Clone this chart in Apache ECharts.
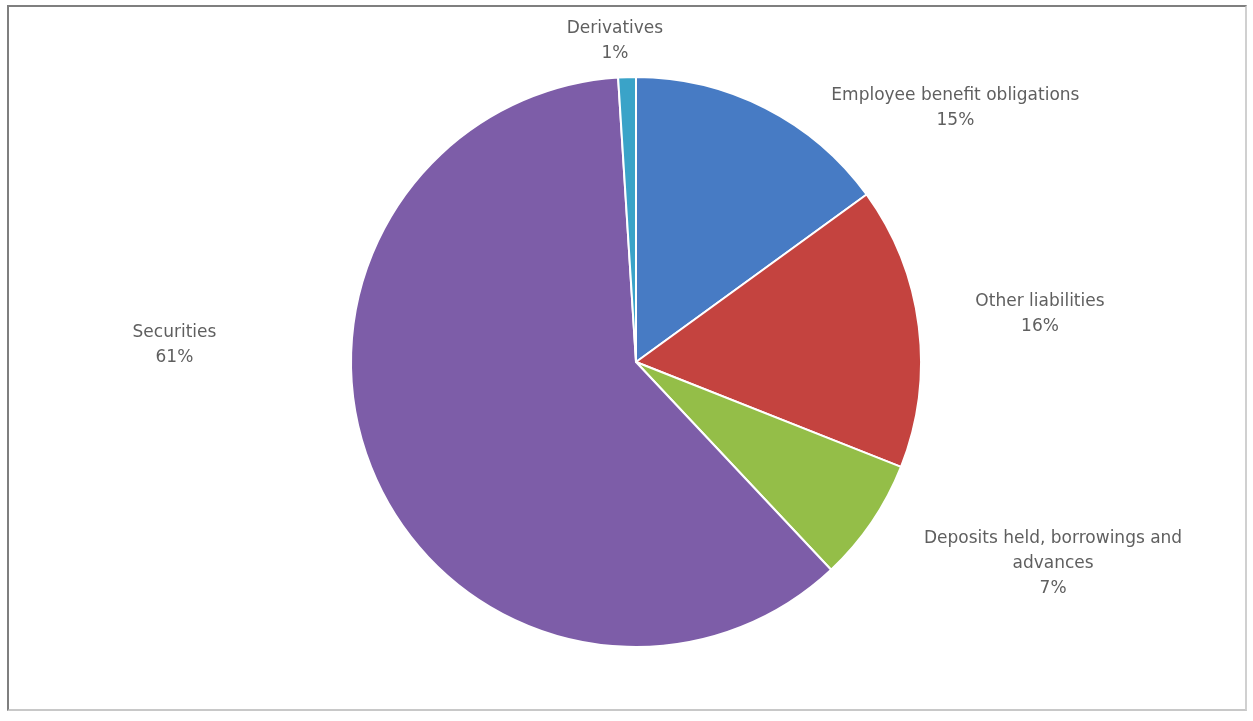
<!DOCTYPE html>
<html>
<head>
<meta charset="utf-8">
<script src="https://cdn.jsdelivr.net/npm/echarts@6/dist/echarts.min.js"></script>
<style>
html, body { margin: 0; padding: 0; background: #fff; }
.frame {
    position: absolute;
    left: 7px; top: 5px;
    width: 1240px; height: 706px;
    border: 2px solid #7f7f7f;
    border-right-color: #d0d0d0;
    border-bottom-color: #c8c8c8;
    box-sizing: border-box;
}
#chart { position: absolute; left: 0; top: 0; width: 1253px; height: 721px; }
</style>
</head>
<body>
<div class="frame"></div>
<div id="chart"></div>
<script>
// 各类负债占比 (%)
const categories = [
    'Employee benefit obligations',
    'Other liabilities',
    'Deposits held, borrowings and\nadvances',
    'Securities',
    'Derivatives'
]
const values = [15, 16, 7, 61, 1]
const colors = ['#477bc4', '#c4433f', '#94be48', '#7d5da8', '#3aa3c8']

// 标签线长度（不显示线，只用来摆放标签）
const lineLen = [0, 99, 73, 0, 36]
const lineLen2 = [185, 18, 116, 195, 6]
const labelDy = [0, 0, 0, -130, 0]

const myChart = echarts.init(document.getElementById('chart'))

const option = {
    backgroundColor: 'transparent',
    animation: false,
    series: [{
        type: 'pie',
        center: [636, 362],
        radius: 285,
        startAngle: 90,
        clockwise: true,
        avoidLabelOverlap: false,
        itemStyle: {
            borderColor: '#ffffff',
            borderWidth: 2
        },
        label: {
            show: true,
            position: 'outside',
            color: '#5f5f5f',
            fontFamily: 'DejaVu Sans, Arial, sans-serif',
            fontSize: 17,
            lineHeight: 25,
            formatter: p => p.name + '\n' + Math.round(p.value) + '%'
        },
        labelLine: { show: false },
        labelLayout: params => ({
            align: 'center',
            dy: labelDy[params.dataIndex]
        }),
        data: categories.map((name, i) => ({
            name: name,
            value: values[i],
            itemStyle: { color: colors[i] },
            labelLine: { show: false, length: lineLen[i], length2: lineLen2[i] }
        }))
    }]
}

myChart.setOption(option)
</script>
</body>
</html>
